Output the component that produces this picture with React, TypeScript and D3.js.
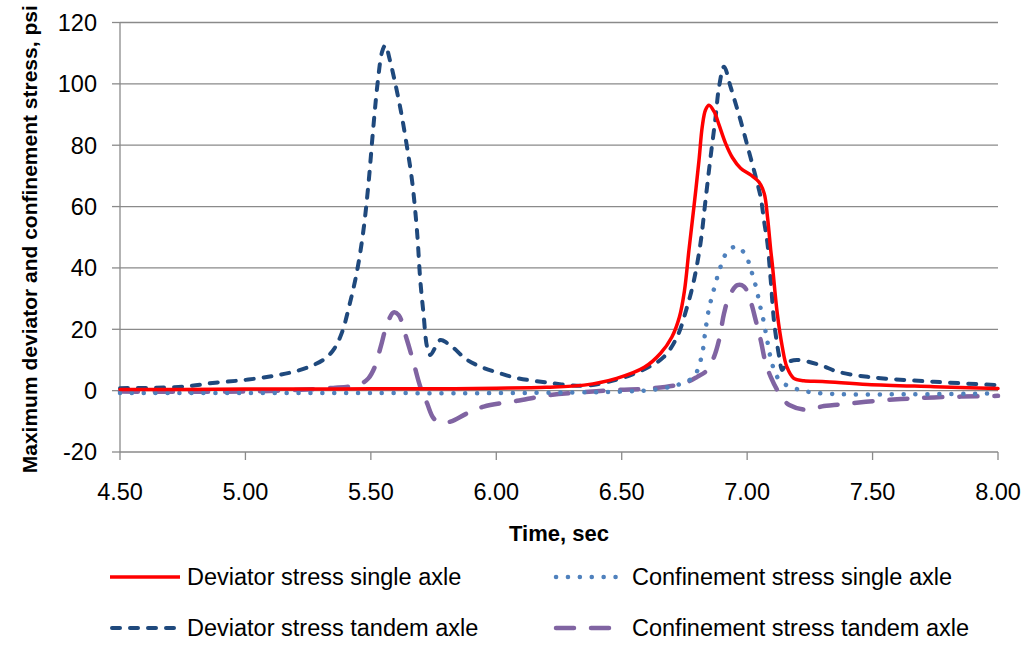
import React from "react";
import * as d3 from "d3";

// Stress histories: [time (sec), stress (psi)]
const deviatorSingle: [number, number][] = [
  [4.5, 0.4], [4.75, 0.4], [5.0, 0.5], [5.25, 0.5], [5.5, 0.6], [5.75, 0.6], [6.0, 0.8],
  [6.2, 1.1], [6.35, 1.8], [6.48, 4.0], [6.59, 7.6], [6.655, 12.2], [6.7, 17.5], [6.73, 24],
  [6.75, 32.5], [6.768, 45.8], [6.788, 60], [6.808, 75], [6.821, 86], [6.834, 91.5],
  [6.848, 93], [6.868, 91], [6.888, 86.6], [6.914, 80.6], [6.941, 76], [6.974, 72.5],
  [7.014, 70.3], [7.047, 68], [7.068, 64.3], [7.081, 56.7], [7.094, 45.8], [7.1, 41.5],
  [7.12, 25.2], [7.14, 14.3], [7.158, 7.8], [7.186, 4.0], [7.226, 3.2], [7.3, 3.0],
  [7.48, 2.0], [7.745, 1.3], [8.0, 0.7],
];

const confinementSingle: [number, number][] = [
  [4.5, -0.8], [5.0, -0.8], [5.5, -0.8], [6.0, -0.8], [6.3, -0.6], [6.5, -0.3], [6.615, 0.2],
  [6.72, 1.8], [6.788, 4.5], [6.808, 8.3], [6.821, 12], [6.834, 19.8], [6.848, 26.8],
  [6.861, 31], [6.874, 35], [6.888, 38.8], [6.901, 42], [6.921, 45.3], [6.958, 47],
  [6.994, 44.2], [7.011, 40.6], [7.024, 37], [7.038, 33], [7.047, 29.3], [7.057, 25.7],
  [7.068, 21.9], [7.076, 18], [7.085, 14.3], [7.094, 10.5], [7.108, 6.7], [7.128, 3.5],
  [7.168, 1.3], [7.213, 0.2], [7.26, -0.6], [7.35, -1.1], [7.6, -1.2], [8.0, -0.9],
];

const deviatorTandem: [number, number][] = [
  [4.5, 0.8], [4.75, 1.3], [4.88, 2.6], [5.0, 3.5], [5.11, 4.8], [5.2, 6.3], [5.27, 8.3],
  [5.32, 10.6], [5.355, 13.8], [5.385, 19], [5.415, 28], [5.445, 39], [5.47, 52],
  [5.49, 67], [5.51, 86], [5.528, 101], [5.545, 110.5], [5.558, 112.6], [5.575, 108],
  [5.595, 101], [5.62, 91], [5.644, 79.5], [5.664, 68.6], [5.684, 52], [5.697, 36],
  [5.71, 25], [5.724, 14.3], [5.737, 11.6], [5.777, 16.5], [5.804, 15.5], [5.83, 13.9],
  [5.884, 10], [5.95, 7.4], [6.016, 5.6], [6.083, 4.1], [6.216, 2.5], [6.35, 1.6],
  [6.48, 3.6], [6.588, 6.9], [6.668, 11], [6.721, 17.6], [6.761, 27.4], [6.788, 36],
  [6.814, 48], [6.834, 62], [6.854, 76], [6.874, 89], [6.888, 99], [6.908, 105.6],
  [6.934, 99], [6.974, 88], [7.007, 78], [7.034, 69.7], [7.054, 63], [7.068, 55],
  [7.081, 48], [7.094, 36], [7.108, 22], [7.128, 11], [7.14, 6.7], [7.158, 9],
  [7.198, 10], [7.293, 8.3], [7.36, 6.2], [7.48, 4.5], [7.745, 2.9], [8.0, 1.8],
];

const confinementTandem: [number, number][] = [
  [4.5, -0.3], [5.0, -0.3], [5.2, 0.2], [5.35, 0.9], [5.42, 1.4], [5.46, 2.2], [5.49, 4.0],
  [5.515, 7.6], [5.54, 14.5], [5.564, 21.5], [5.591, 25.5], [5.611, 24.6], [5.644, 16.5],
  [5.671, 8.9], [5.697, 1.3], [5.724, -4.1], [5.75, -9], [5.777, -10.5], [5.817, -10.1],
  [5.884, -7.4], [5.95, -5.2], [6.083, -3.3], [6.216, -1.4], [6.35, -0.5], [6.48, 0.2],
  [6.615, 0.7], [6.748, 2.4], [6.801, 4.5], [6.841, 6.7], [6.868, 11], [6.888, 16.5],
  [6.908, 25.2], [6.928, 30.6], [6.961, 34.4], [6.988, 33.9], [7.014, 29], [7.034, 23],
  [7.054, 16.5], [7.074, 8.9], [7.094, 4.5], [7.12, 0.2], [7.147, -3.1], [7.168, -4.7],
  [7.24, -6.3], [7.306, -5], [7.346, -4.7], [7.546, -3.1], [7.745, -2.2], [8.0, -1.7],
];

const xTicks = [4.5, 5.0, 5.5, 6.0, 6.5, 7.0, 7.5, 8.0];
const yTicks = [-20, 0, 20, 40, 60, 80, 100, 120];

const seriesNames = [
  "Deviator stress single axle",
  "Confinement stress single axle",
  "Deviator stress tandem axle",
  "Confinement stress tandem axle",
];

const W = 1029;
const H = 645;
const plot = { left: 120, right: 998, top: 22.5, bottom: 452 };
const font = "'Liberation Sans', Arial, sans-serif";
const gridColor = "#8a8a8a";

type Style = { color: string; width: number; dash?: string; cap: "round" | "butt" };

const styles: Style[] = [
  { color: "#FF0000", width: 3.5, cap: "round" },
  { color: "#4F81BD", width: 4.5, dash: "0.1 11.8", cap: "round" },
  { color: "#1F497D", width: 4, dash: "8 10", cap: "round" },
  { color: "#8064A2", width: 4.5, dash: "18 17", cap: "round" },
];

export default function App() {
  const x = d3.scaleLinear().domain([4.5, 8.0]).range([plot.left, plot.right]);
  const y = d3.scaleLinear().domain([-20, 120]).range([plot.bottom, plot.top]);

  const line = d3
    .line<[number, number]>()
    .x((d) => x(d[0]))
    .y((d) => y(d[1]))
    .curve(d3.curveCatmullRom.alpha(0.5));

  const data = [deviatorSingle, confinementSingle, deviatorTandem, confinementTandem];
  // drawing order: dark blue under the others, red on top
  const order = [2, 3, 1, 0];

  const legendRows = [577, 628];
  const legendCols = [
    { x0: 110, x1: 180, tx: 187 },
    { x0: 554, x1: 620, tx: 632 },
  ];

  return (
    <svg
      width={W}
      height={H}
      style={{ position: "absolute", left: 0, top: 0, background: "#fff" }}
      fontFamily={font}
    >
      {/* horizontal gridlines */}
      {yTicks.map((t) => (
        <line
          key={"g" + t}
          x1={plot.left}
          x2={plot.right}
          y1={y(t)}
          y2={y(t)}
          stroke={gridColor}
          strokeWidth={1.3}
        />
      ))}
      {/* y axis */}
      <line x1={plot.left} x2={plot.left} y1={plot.top} y2={plot.bottom} stroke={gridColor} strokeWidth={1.3} />
      {yTicks.map((t) => (
        <g key={"yt" + t}>
          <line x1={plot.left - 8} x2={plot.left} y1={y(t)} y2={y(t)} stroke={gridColor} strokeWidth={1.3} />
          <text x={97} y={y(t)} dy="0.36em" textAnchor="end" fontSize={23.5} fill="#000">
            {t}
          </text>
        </g>
      ))}
      {/* x axis ticks */}
      {xTicks.map((t) => (
        <g key={"xt" + t}>
          <line x1={x(t)} x2={x(t)} y1={plot.bottom} y2={plot.bottom + 8} stroke={gridColor} strokeWidth={1.3} />
          <text x={x(t)} y={500} textAnchor="middle" fontSize={23.5} fill="#000">
            {t.toFixed(2)}
          </text>
        </g>
      ))}

      {/* series */}
      {order.map((i) => (
        <path
          key={"s" + i}
          d={line(data[i]) || ""}
          fill="none"
          stroke={styles[i].color}
          strokeWidth={styles[i].width}
          strokeDasharray={styles[i].dash}
          strokeLinecap={styles[i].cap}
          strokeLinejoin="round"
        />
      ))}

      {/* axis titles */}
      <text x={(plot.left + plot.right) / 2} y={541} textAnchor="middle" fontSize={22} fontWeight="bold" fill="#000">
        Time, sec
      </text>
      <text
        transform={`translate(37, ${(plot.top + plot.bottom) / 2 + 2}) rotate(-90)`}
        textAnchor="middle"
        fontSize={21}
        fontWeight="bold"
        fill="#000"
      >
        Maximum deviator and confinement stress, psi
      </text>

      {/* legend */}
      {seriesNames.map((name, i) => {
        const row = legendRows[Math.floor(i / 2)];
        const col = legendCols[i % 2];
        const s = styles[i];
        return (
          <g key={"l" + i}>
            <line
              x1={col.x0 + (s.dash ? 2 : 0)}
              x2={col.x1 - (s.dash ? 2 : 0)}
              y1={row}
              y2={row}
              stroke={s.color}
              strokeWidth={s.width}
              strokeDasharray={s.dash}
              strokeLinecap={s.dash ? s.cap : "butt"}
            />
            <text x={col.tx} y={row} dy="0.36em" fontSize={23.5} fill="#000">
              {name}
            </text>
          </g>
        );
      })}
    </svg>
  );
}
